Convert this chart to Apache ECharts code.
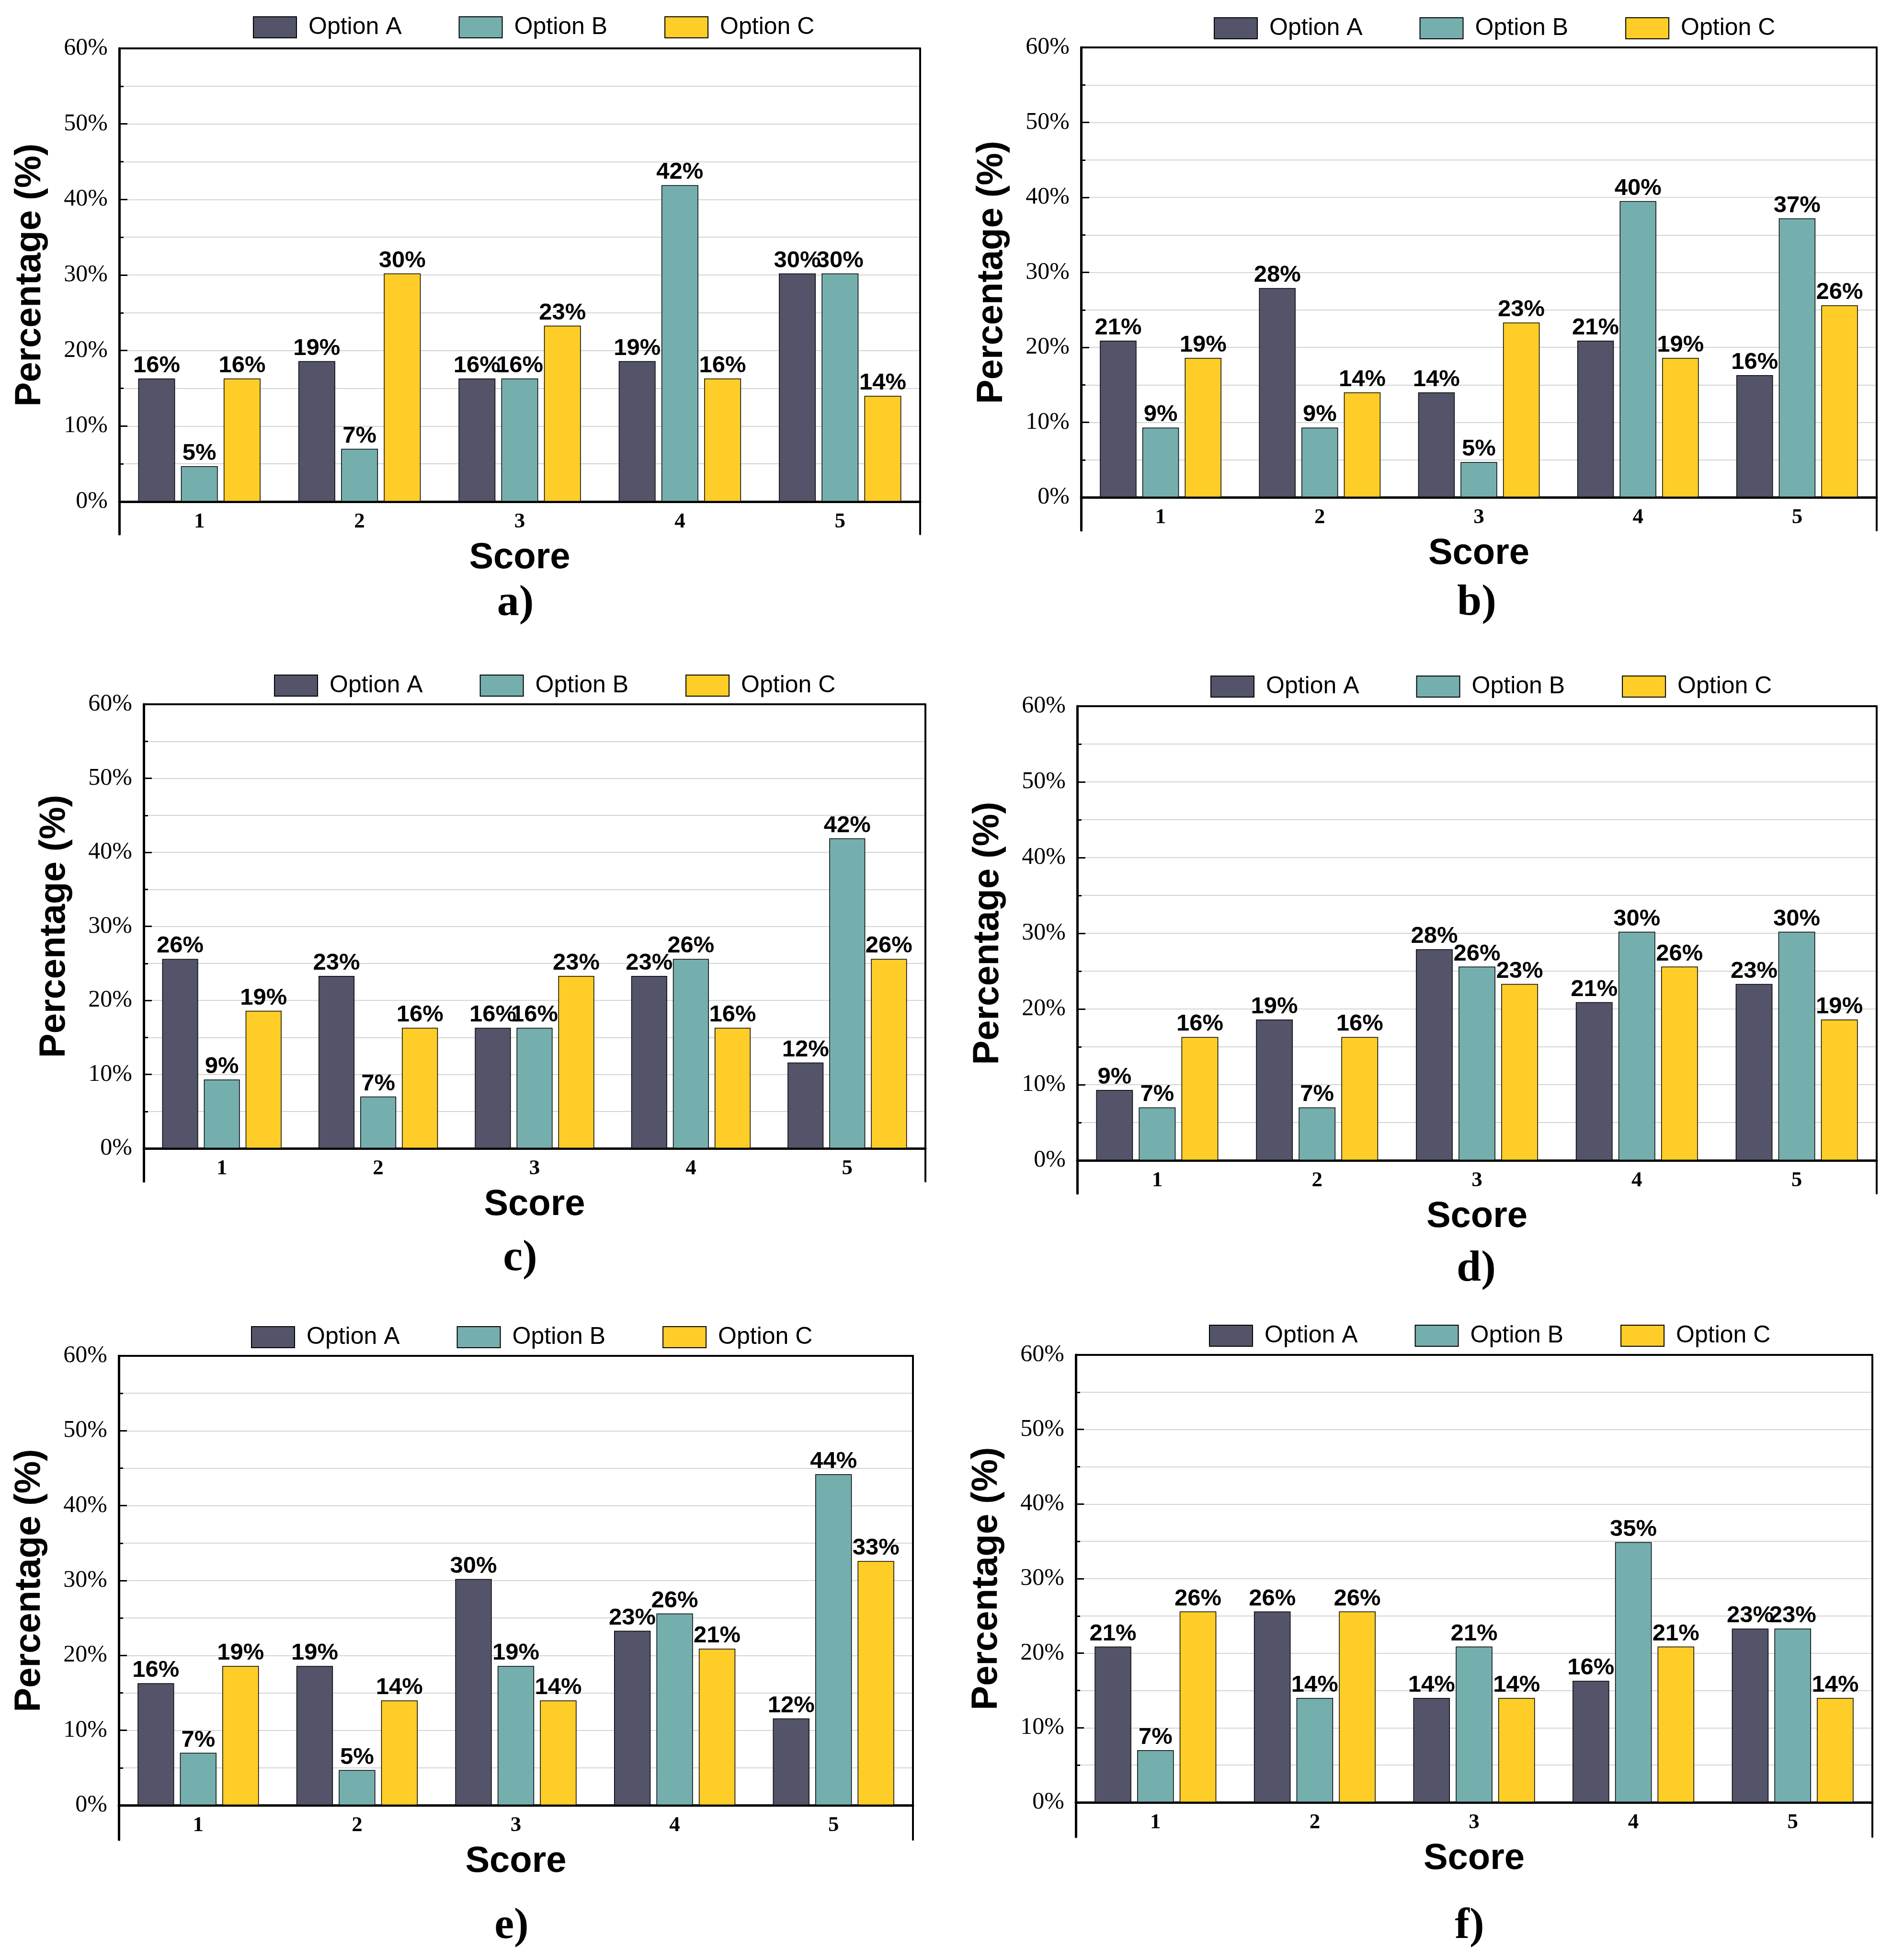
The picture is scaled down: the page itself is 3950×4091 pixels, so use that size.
<!DOCTYPE html>
<html>
<head>
<meta charset="utf-8">
<script src="https://cdn.jsdelivr.net/npm/echarts@6/dist/echarts.min.js"></script>
<style>html,body{margin:0;padding:0;background:#fff}#c{width:3950px;height:4091px}</style>
</head>
<body>
<div id="c"></div>
<script>
// ---------- data ----------
const categories = ['1', '2', '3', '4', '5'];
const optionNames = ['Option A', 'Option B', 'Option C'];
const panelLabels = ['a)', 'b)', 'c)', 'd)', 'e)', 'f)'];
const yMin = 0, yMax = 60, yStep = 10;

const aOptionA = [16.3, 18.6, 16.3, 18.6, 30.2];
const aOptionB = [4.7, 7.0, 16.3, 41.9, 30.2];
const aOptionC = [16.3, 30.2, 23.3, 16.3, 14.0];

const bOptionA = [20.9, 27.9, 14.0, 20.9, 16.3];
const bOptionB = [9.3, 9.3, 4.7, 39.5, 37.2];
const bOptionC = [18.6, 14.0, 23.3, 18.6, 25.6];

const cOptionA = [25.6, 23.3, 16.3, 23.3, 11.6];
const cOptionB = [9.3, 7.0, 16.3, 25.6, 41.9];
const cOptionC = [18.6, 16.3, 23.3, 16.3, 25.6];

const dOptionA = [9.3, 18.6, 27.9, 20.9, 23.3];
const dOptionB = [7.0, 7.0, 25.6, 30.2, 30.2];
const dOptionC = [16.3, 16.3, 23.3, 25.6, 18.6];

const eOptionA = [16.3, 18.6, 30.2, 23.3, 11.6];
const eOptionB = [7.0, 4.7, 18.6, 25.6, 44.2];
const eOptionC = [18.6, 14.0, 14.0, 20.9, 32.6];

const fOptionA = [20.9, 25.6, 14.0, 16.3, 23.3];
const fOptionB = [7.0, 14.0, 20.9, 34.9, 23.3];
const fOptionC = [25.6, 25.6, 14.0, 20.9, 14.0];

const panelData = [
  [aOptionA, aOptionB, aOptionC],
  [bOptionA, bOptionB, bOptionC],
  [cOptionA, cOptionB, cOptionC],
  [dOptionA, dOptionB, dOptionC],
  [eOptionA, eOptionB, eOptionC],
  [fOptionA, fOptionB, fOptionC]
];

// ---------- layout & style ----------
const layout = [
  {L: 249,  R: 1921, T: 101,  Z: 1047, E: 1115, legX: 523,  legY: 55,   labX: 1076, labY: 1260},
  {L: 2257, R: 3918, T: 99,   Z: 1038, E: 1107, legX: 2529, legY: 57,   labX: 3083, labY: 1259},
  {L: 300,  R: 1932, T: 1470, Z: 2397, E: 2466, legX: 567,  legY: 1429, labX: 1086, labY: 2627},
  {L: 2249, R: 3918, T: 1474, Z: 2422, E: 2491, legX: 2522, legY: 1431, labX: 3082, labY: 2649},
  {L: 248,  R: 1906, T: 2830, Z: 3768, E: 3840, legX: 519,  legY: 2789, labX: 1068, labY: 4021},
  {L: 2246, R: 3909, T: 2828, Z: 3762, E: 3834, legX: 2519, legY: 2786, labX: 3068, labY: 4021}
];
const colors = ['#535469', '#74AFAE', '#FECD27'];
const SANS = 'Liberation Sans, Arial, sans-serif';
const SERIF = 'Liberation Serif, Times New Roman, serif';

const grid = [], xAxis = [], yAxis = [], series = [], legend = [], graphic = [];

layout.forEach((p, i) => {
  const gMain = grid.length;
  grid.push({left: p.L, top: p.T, width: p.R - p.L, height: p.Z - p.T, outerBoundsMode: 'none', containLabel: false});
  const gFrame = grid.length;
  grid.push({left: p.L, top: p.T, width: p.R - p.L, height: p.E - p.T, outerBoundsMode: 'none', containLabel: false});

  const xMain = xAxis.length;
  xAxis.push({
    type: 'category', gridIndex: gMain, data: categories,
    axisLine: {show: true, onZero: true, lineStyle: {color: '#000', width: 5}},
    axisTick: {show: false},
    axisLabel: {color: '#000', fontFamily: SERIF, fontWeight: 'bold', fontSize: 45, margin: 20},
    splitLine: {show: false},
    name: 'Score', nameLocation: 'middle', nameGap: 80,
    nameTextStyle: {color: '#000', fontFamily: SANS, fontWeight: 'bold', fontSize: 76}
  });
  xAxis.push({
    type: 'value', gridIndex: gFrame, position: 'top', min: 0, max: 1,
    axisLine: {show: true, onZero: false, lineStyle: {color: '#000', width: 4}},
    axisTick: {show: false}, axisLabel: {show: false}, splitLine: {show: false}
  });

  const yMainIdx = yAxis.length;
  yAxis.push({
    type: 'value', gridIndex: gMain, min: yMin, max: yMax, interval: yStep,
    axisLine: {show: false},
    axisTick: {show: true, inside: true, length: 17, lineStyle: {color: '#000', width: 3}},
    minorTick: {show: true, splitNumber: 2, length: 9, lineStyle: {color: '#000', width: 3}},
    splitLine: {show: true, lineStyle: {color: '#d4d4d4', width: 2}},
    minorSplitLine: {show: true, lineStyle: {color: '#d4d4d4', width: 2}},
    axisLabel: {color: '#000', fontFamily: SERIF, fontSize: 50, margin: 24, formatter: '{value}%'},
    name: 'Percentage (%)', nameLocation: 'middle', nameGap: 148,
    nameTextStyle: {color: '#000', fontFamily: SANS, fontWeight: 'bold', fontSize: 76}
  });
  yAxis.push({
    type: 'value', gridIndex: gFrame, position: 'left', min: 0, max: 1,
    axisLine: {show: true, onZero: false, lineStyle: {color: '#000', width: 5}},
    axisTick: {show: false}, axisLabel: {show: false}, splitLine: {show: false}
  });
  yAxis.push({
    type: 'value', gridIndex: gFrame, position: 'right', min: 0, max: 1,
    axisLine: {show: true, onZero: false, lineStyle: {color: '#000', width: 4}},
    axisTick: {show: false}, axisLabel: {show: false}, splitLine: {show: false}
  });

  panelData[i].forEach((vals, k) => {
    series.push({
      type: 'bar', name: optionNames[k], xAxisIndex: xMain, yAxisIndex: yMainIdx,
      data: vals, barWidth: '23%', barGap: '16%',
      itemStyle: {color: colors[k], borderColor: '#000', borderWidth: 1.5},
      label: {
        show: true, position: 'top', distance: 2, color: '#000',
        fontFamily: SANS, fontWeight: 'bold', fontSize: 49,
        formatter: (d) => Math.round(d.value) + '%'
      },
      emphasis: {disabled: true}
    });
  });

  legend.push({
    data: optionNames, left: p.legX, top: p.legY - 28, orient: 'horizontal',
    itemWidth: 90, itemHeight: 44, itemGap: 119, icon: 'rect',
    textStyle: {color: '#000', fontFamily: SANS, fontSize: 50, padding: [0, 0, 0, 20]},
    selectedMode: false
  });

  graphic.push({
    type: 'text', x: p.labX, y: p.labY,
    style: {text: panelLabels[i], fill: '#000', font: 'bold 92px ' + SERIF, align: 'center', verticalAlign: 'middle'}
  });
});

const chart = echarts.init(document.getElementById('c'), null, {renderer: 'canvas'});
chart.setOption({
  backgroundColor: '#fff',
  animation: false,
  grid, xAxis, yAxis, series, legend, graphic
});
</script>
</body>
</html>
